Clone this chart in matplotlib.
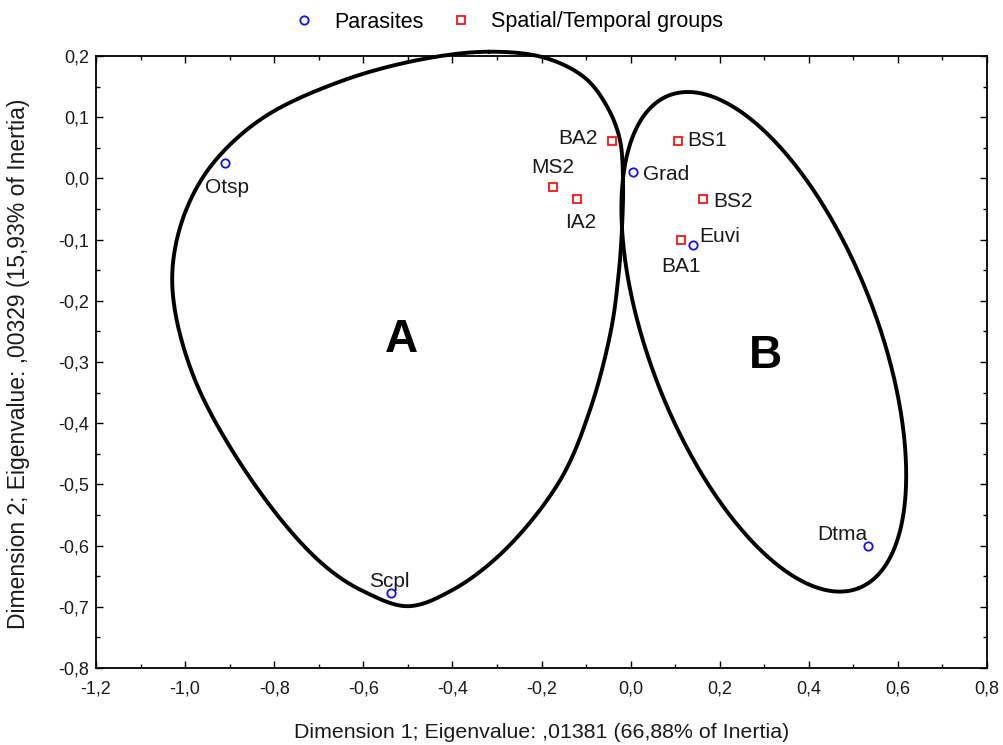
import numpy as np
import matplotlib
matplotlib.use("Agg")
import matplotlib.pyplot as plt
from matplotlib.ticker import MultipleLocator, FuncFormatter

plt.rcParams['font.family'] = ['Liberation Sans', 'DejaVu Sans']

# Parasites
par_names = ["Otsp", "Grad", "Euvi", "Dtma", "Scpl"]
par_x = [-0.910, 0.005, 0.140, 0.533, -0.538]
par_y = [0.025, 0.010, -0.109, -0.601, -0.677]

# Spatial/Temporal groups
grp_names = ["BA2", "BS1", "MS2", "IA2", "BS2", "BA1"]
grp_x = [-0.042, 0.106, -0.174, -0.120, 0.163, 0.113]
grp_y = [0.061, 0.061, -0.014, -0.034, -0.034, -0.101]

# Outline A control points (data coordinates) of the hand-drawn grouping
curveA_x = [-0.318, -0.192, -0.102, -0.051, -0.024, -0.017, -0.019, -0.026, -0.044, -0.091,
            -0.158, -0.282, -0.401, -0.500, -0.596, -0.675, -0.765, -0.888, -0.978, -1.023,
            -1.027, -0.998, -0.937, -0.825, -0.653, -0.473]
curveA_y = [0.207, 0.197, 0.164, 0.115, 0.063, -0.003, -0.076, -0.150, -0.248, -0.378,
            -0.493, -0.607, -0.673, -0.699, -0.676, -0.640, -0.575, -0.452, -0.329, -0.215,
            -0.137, -0.052, 0.025, 0.099, 0.158, 0.194]
# Outline B: ellipse centre (data), semi-axes (screen px) and tilt (deg, screen)
ellB_center = (0.299, -0.267)
ellB_axes = (264, 114)
ellB_angle = -69

group_letters = ["A", "B"]
letter_x = [-0.515, 0.302]
letter_y = [-0.284, -0.310]

W, H = 1004, 745
L, R, T, B = 96, 987, 56, 668
XMIN, XMAX, YMIN, YMAX = -1.2, 0.8, -0.8, 0.2
SX = (R - L) / (XMAX - XMIN)
SY = (B - T) / (YMAX - YMIN)


def closed_spline(xs, ys, n=40, alpha=0.5):
    # centripetal Catmull-Rom, distances measured in screen proportions
    pts = np.column_stack([np.asarray(xs) * SX, np.asarray(ys) * SY])
    N = len(pts)
    out = []
    for i in range(N):
        p0, p1, p2, p3 = pts[i - 1], pts[i], pts[(i + 1) % N], pts[(i + 2) % N]
        t0 = 0.0
        t1 = t0 + np.linalg.norm(p1 - p0) ** alpha
        t2 = t1 + np.linalg.norm(p2 - p1) ** alpha
        t3 = t2 + np.linalg.norm(p3 - p2) ** alpha
        t = np.linspace(t1, t2, n, endpoint=False)[:, None]
        A1 = (t1 - t) / (t1 - t0) * p0 + (t - t0) / (t1 - t0) * p1
        A2 = (t2 - t) / (t2 - t1) * p1 + (t - t1) / (t2 - t1) * p2
        A3 = (t3 - t) / (t3 - t2) * p2 + (t - t2) / (t3 - t2) * p3
        B1 = (t2 - t) / (t2 - t0) * A1 + (t - t0) / (t2 - t0) * A2
        B2 = (t3 - t) / (t3 - t1) * A2 + (t - t1) / (t3 - t1) * A3
        C = (t2 - t) / (t2 - t1) * B1 + (t - t1) / (t2 - t1) * B2
        out.append(C)
    out = np.vstack(out)
    out = np.vstack([out, out[:1]])
    return out[:, 0] / SX, out[:, 1] / SY


def ellipse_outline(center, axes, angle, n=400):
    t = np.linspace(0, 2 * np.pi, n)
    th = np.deg2rad(angle)
    a, b = axes
    dx = a * np.cos(t) * np.cos(th) - b * np.sin(t) * np.sin(th)
    dy = a * np.cos(t) * np.sin(th) + b * np.sin(t) * np.cos(th)
    return center[0] + dx / SX, center[1] + dy / SY


fig = plt.figure(figsize=(W / 100, H / 100), dpi=100)
ax = fig.add_axes([L / W, 1 - B / H, (R - L) / W, (B - T) / H])

ax.set_xlim(XMIN, XMAX)
ax.set_ylim(YMIN, YMAX)

ax_, ay_ = closed_spline(curveA_x, curveA_y)
bx_, by_ = ellipse_outline(ellB_center, ellB_axes, ellB_angle)
for sx, sy in [(ax_, ay_), (bx_, by_)]:
    ax.plot(sx, sy, color='black', lw=2.8, clip_on=False, zorder=2, solid_capstyle='round')

ax.plot(par_x, par_y, linestyle='none', marker='o', ms=6, mfc='white', mec='#1010ff',
        mew=1.3, zorder=3, label='Parasites')
ax.plot(grp_x, grp_y, linestyle='none', marker='s', ms=6, mfc='white', mec='#ff1010',
        mew=1.3, zorder=3, label='Spatial/Temporal groups')

fs = 15
# (dx px, dy px, ha) ; text placed on its baseline
par_off = {"Otsp": (2, -30, 'center'), "Grad": (10, -8, 'left'),
           "Euvi": (6, 3, 'left'), "Dtma": (-1, 6, 'right'),
           "Scpl": (-1.5, 6, 'center')}
grp_off = {"BA2": (-14, -3, 'right'), "BS1": (9, -5, 'left'),
           "MS2": (0, 14, 'center'), "IA2": (4, -29, 'center'),
           "BS2": (10, -8, 'left'), "BA1": (0, -32, 'center')}
for n, x, y in zip(par_names, par_x, par_y):
    dx, dy, ha = par_off[n]
    ax.annotate(n, (x, y), xytext=(dx, dy), textcoords='offset pixels', ha=ha, va='baseline',
                fontsize=fs, color='#1a1a1a', zorder=4)
for n, x, y in zip(grp_names, grp_x, grp_y):
    dx, dy, ha = grp_off[n]
    ax.annotate(n, (x, y), xytext=(dx, dy), textcoords='offset pixels', ha=ha, va='baseline',
                fontsize=fs, color='#1a1a1a', zorder=4)

for s, x, y in zip(group_letters, letter_x, letter_y):
    ax.text(x, y, s, fontsize=33, fontweight='bold', ha='center', va='baseline')

fmt = FuncFormatter(lambda v, p: ("%.1f" % v).replace('.', ',').replace('-0,0', '0,0'))
ax.xaxis.set_major_locator(MultipleLocator(0.2))
ax.xaxis.set_minor_locator(MultipleLocator(0.1))
ax.yaxis.set_major_locator(MultipleLocator(0.1))
ax.yaxis.set_minor_locator(MultipleLocator(0.05))
ax.xaxis.set_major_formatter(fmt)
ax.yaxis.set_major_formatter(fmt)
ax.tick_params(which='both', direction='in', top=True, right=True, labelsize=13,
               colors='black', labelcolor='#1a1a1a', width=1)
ax.tick_params(which='major', length=5)
ax.tick_params(which='minor', length=3)
ax.tick_params(axis='x', which='major', pad=9)
ax.tick_params(axis='y', which='major', pad=5)
for s in ax.spines.values():
    s.set_linewidth(1.3)

ax.set_xlabel("Dimension 1; Eigenvalue: ,01381 (66,88% of Inertia)", fontsize=15.4,
              color='#1a1a1a')
ax.set_ylabel("Dimension 2; Eigenvalue: ,00329 (15,93% of Inertia)", fontsize=16.5,
              color='#1a1a1a')
ax.xaxis.label.set_va('center')
ax.yaxis.label.set_va('center')
ax.xaxis.set_label_coords(0.5, (668 - 732) / 612)
ax.yaxis.set_label_coords((19 - 96) / 891, 0.497)

fig.legend(loc='center', bbox_to_anchor=(508 / W, 1 - 22 / H), ncol=2, frameon=False,
           fontsize=15.5, handlelength=1.0, handletextpad=0.9, columnspacing=1.22,
           borderpad=0.2)

fig.savefig("out.png", dpi=100)
